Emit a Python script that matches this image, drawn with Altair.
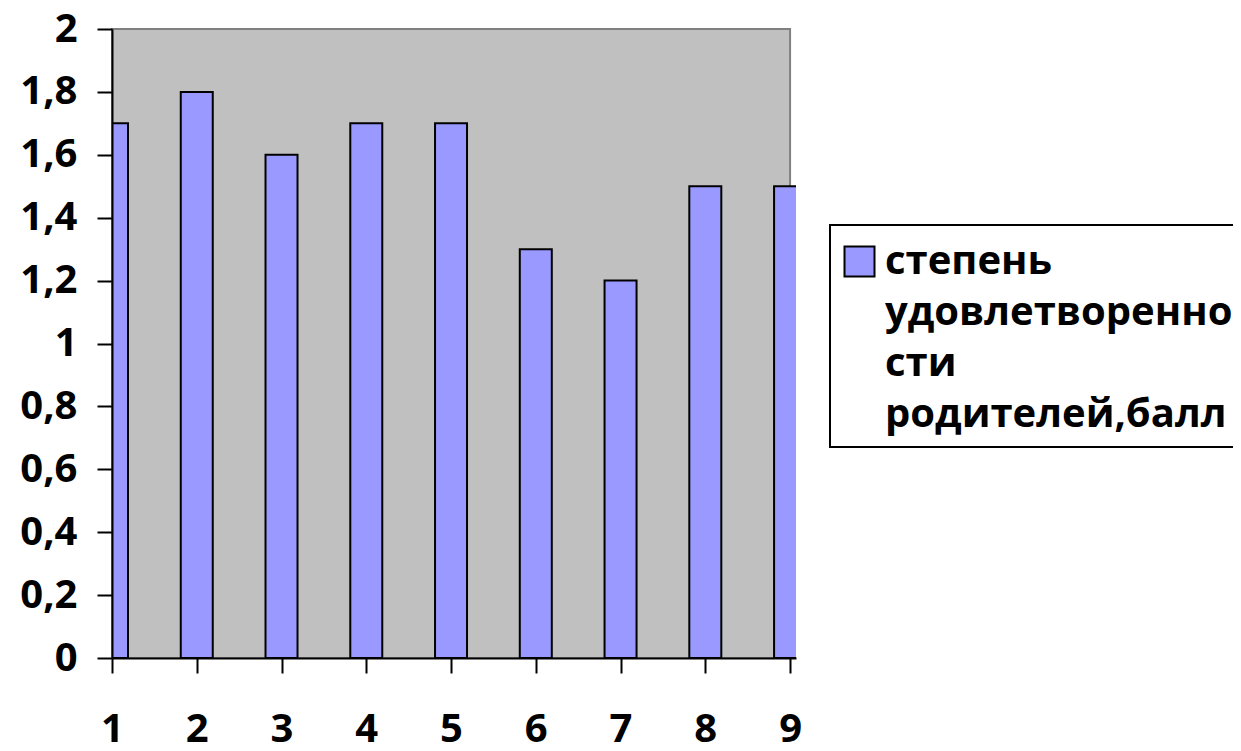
import altair as alt
import pandas as pd

# ---- data ----
categories = [1, 2, 3, 4, 5, 6, 7, 8, 9]
values = [1.7, 1.8, 1.6, 1.7, 1.7, 1.3, 1.2, 1.5, 1.5]
series_name = "степень удовлетворенности родителей,балл"
legend_lines = ["степень", "удовлетворенно", "сти", "родителей,балл"]
y_ticks = [0, 0.2, 0.4, 0.6, 0.8, 1, 1.2, 1.4, 1.6, 1.8, 2]

df = pd.DataFrame({"cat": categories, "val": values, "series": series_name})
bg = pd.DataFrame({"x": [categories[0]], "x2": [categories[-1]],
                   "y": [y_ticks[0]], "y2": [y_ticks[-1]]})

FONT = "Open Sans"
x_scale = alt.Scale(domain=[1, 9.07], nice=False, zero=False, padding=0)
y_scale = alt.Scale(domain=[0, 2], nice=False, zero=True, padding=0)

common_axis = dict(title=None, labelFont=FONT, labelFontSize=40, labelFontWeight="bold",
                   labelColor="black", tickSize=15, tickWidth=2, tickColor="black",
                   domainColor="black", domainWidth=2, grid=False, zindex=1,
                   labelFlush=False, labelOverlap=False)

x_axis = alt.Axis(values=categories, labelPadding=36, **common_axis)
y_axis = alt.Axis(values=y_ticks, labelPadding=20,
                  labelExpr="replace(toString(round(datum.value*10)/10), '.', ',')",
                  **common_axis)

background = alt.Chart(bg).mark_rect(fill="#C0C0C0", stroke="#808080", strokeWidth=2).encode(
    x=alt.X("x:Q", scale=x_scale, axis=x_axis),
    x2="x2",
    y=alt.Y("y:Q", scale=y_scale, axis=y_axis),
    y2="y2",
)

legend = alt.Legend(
    orient="none", legendX=718, legendY=196,
    title=legend_lines, titleOrient="right", titleAnchor="start", titleBaseline="line-top",
    titleFont=FONT, titleFontSize=40, titleFontWeight="bold", titleColor="black",
    titleLineHeight=51, titlePadding=1, titleLimit=1000,
    labelExpr="''", labelOffset=0, labelFontSize=49,
    symbolType="square", symbolSize=900, symbolStrokeColor="black", symbolStrokeWidth=2,
    symbolOffset=-7,
    strokeColor="black", padding=12,
)

bars = alt.Chart(df).mark_bar(size=32, stroke="black", strokeWidth=2, clip=True).encode(
    x=alt.X("cat:Q", scale=x_scale, axis=x_axis),
    y=alt.Y("val:Q", scale=y_scale, axis=y_axis),
    color=alt.Color("series:N", scale=alt.Scale(domain=[series_name], range=["#9999FF"]),
                    legend=legend),
)

chart = alt.layer(background, bars).properties(
    width=684, height=629,
    autosize=alt.AutoSizeParams(type="none"),
    padding={"left": 104, "top": 21, "right": 437, "bottom": 85},
).configure_view(stroke="transparent").configure_legend(strokeWidth=2)

chart.save("out.html", embed_options={"renderer": "svg", "actions": False})
